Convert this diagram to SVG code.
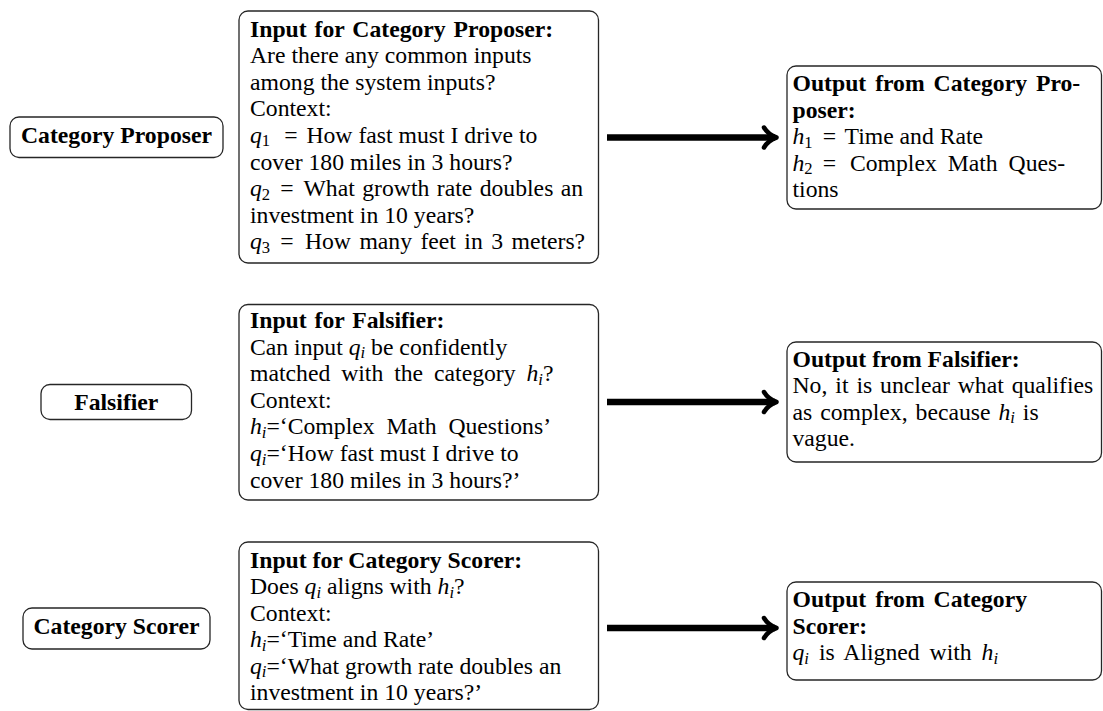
<svg xmlns="http://www.w3.org/2000/svg" width="1103" height="711" viewBox="0 0 1103 711">
<style>
.box{fill:#fff;stroke:#262626;stroke-width:1.3}
text{font-family:"Liberation Serif","Times New Roman",serif;font-size:23.7px;fill:#000}
.b{font-weight:bold}
.m{font-style:italic}
.sb{font-size:16.6px}
.si{font-size:16.6px;font-style:italic}
.arrow{stroke:#000;stroke-width:6.5;fill:none}
</style>
<defs>
<marker id="ah" markerUnits="userSpaceOnUse" orient="auto" refX="0" refY="0" markerWidth="30" markerHeight="30" viewBox="-15 -15 30 30" overflow="visible">
<path d="M-11,-10 C-8,-5 -3,-1.5 1.5,0 C-3,1.5 -8,5 -11,10" fill="none" stroke="#000" stroke-width="4.5" stroke-linecap="round" stroke-linejoin="round"/>
</marker>
</defs>

<g id="connectors">
<line class="arrow" x1="607" y1="137.5" x2="775" y2="137.5" marker-end="url(#ah)"/>
<line class="arrow" x1="607" y1="402" x2="775" y2="402" marker-end="url(#ah)"/>
<line class="arrow" x1="607" y1="628" x2="775" y2="628" marker-end="url(#ah)"/>
</g>

<g id="category-proposer">
<rect class="box" x="10" y="117" width="213" height="40.5" rx="9"/>
<text class="b" x="116.5" y="142.5" text-anchor="middle">Category Proposer</text>
</g>

<g id="input-category-proposer">
<rect class="box" x="239" y="11" width="359.5" height="252" rx="9"/>
<text class="b" x="250" y="36.5" word-spacing="2">Input for Category Proposer:</text>
<text x="250" y="63.1">Are there any common inputs</text>
<text x="250" y="89.7">among the system inputs?</text>
<text x="250" y="116.3">Context:</text>
<text x="250" y="142.9"><tspan class="m">q</tspan><tspan class="sb" dy="3.5">1</tspan><tspan dy="-3.5" dx="14">=</tspan><tspan dx="3"> How fast must I drive to</tspan></text>
<text x="250" y="169.5">cover 180 miles in 3 hours?</text>
<text x="250" y="196.1" word-spacing="1.5"><tspan class="m">q</tspan><tspan class="sb" dy="3.5">2</tspan><tspan dy="-3.5" dx="10">=</tspan><tspan dx="3"> What growth rate doubles an</tspan></text>
<text x="250" y="222.7">investment in 10 years?</text>
<text x="250" y="249.3" word-spacing="2.5"><tspan class="m">q</tspan><tspan class="sb" dy="3.5">3</tspan><tspan dy="-3.5" dx="10">=</tspan><tspan dx="3"> How many feet in 3 meters?</tspan></text>
</g>

<g id="output-category-proposer">
<rect class="box" x="787" y="66" width="314.5" height="143" rx="9"/>
<text class="b" x="792.5" y="91" word-spacing="3">Output from Category Pro-</text>
<text class="b" x="792.5" y="117.6">poser:</text>
<text x="792.5" y="144.2"><tspan class="m">h</tspan><tspan class="sb" dy="3.5">1</tspan><tspan dy="-3.5" dx="10">=</tspan><tspan dx="3"> Time and Rate</tspan></text>
<text x="792.5" y="170.8" word-spacing="5"><tspan class="m">h</tspan><tspan class="sb" dy="3.5">2</tspan><tspan dy="-3.5" dx="10">=</tspan><tspan dx="3"> Complex Math Ques-</tspan></text>
<text x="792.5" y="197.4">tions</text>
</g>

<g id="falsifier">
<rect class="box" x="41" y="384.5" width="150.5" height="35" rx="9"/>
<text class="b" x="116.3" y="409.5" text-anchor="middle">Falsifier</text>
</g>

<g id="input-falsifier">
<rect class="box" x="239" y="304.5" width="359.5" height="195.5" rx="9"/>
<text class="b" x="250" y="328" word-spacing="2">Input for Falsifier:</text>
<text x="250" y="354.6">Can input <tspan class="m">q</tspan><tspan class="si" dy="3.5">i</tspan><tspan dy="-3.5"> be confidently</tspan></text>
<text x="250" y="381.2" word-spacing="5">matched with the category <tspan class="m">h</tspan><tspan class="si" dy="3.5">i</tspan><tspan dy="-3.5">?</tspan></text>
<text x="250" y="407.8">Context:</text>
<text x="250" y="434.4" word-spacing="6"><tspan class="m">h</tspan><tspan class="si" dy="3.5">i</tspan><tspan dy="-3.5">=‘Complex Math Questions’</tspan></text>
<text x="250" y="461"><tspan class="m">q</tspan><tspan class="si" dy="3.5">i</tspan><tspan dy="-3.5">=‘How fast must I drive to</tspan></text>
<text x="250" y="487.6">cover 180 miles in 3 hours?’</text>
</g>

<g id="output-falsifier">
<rect class="box" x="787" y="342" width="314.5" height="120" rx="9"/>
<text class="b" x="792.5" y="366.5">Output from Falsifier:</text>
<text x="792.5" y="393" word-spacing="2">No, it is unclear what qualifies</text>
<text x="792.5" y="419.5" word-spacing="2">as complex, because <tspan class="m">h</tspan><tspan class="si" dy="3.5">i</tspan><tspan dy="-3.5"> is</tspan></text>
<text x="792.5" y="446">vague.</text>
</g>

<g id="category-scorer">
<rect class="box" x="23" y="608" width="187" height="41" rx="9"/>
<text class="b" x="116.5" y="634" text-anchor="middle">Category Scorer</text>
</g>

<g id="input-category-scorer">
<rect class="box" x="239" y="542" width="359.5" height="167.5" rx="9"/>
<text class="b" x="250" y="567.5">Input for Category Scorer:</text>
<text x="250" y="594">Does <tspan class="m">q</tspan><tspan class="si" dy="3.5">i</tspan><tspan dy="-3.5"> aligns with </tspan><tspan class="m">h</tspan><tspan class="si" dy="3.5">i</tspan><tspan dy="-3.5">?</tspan></text>
<text x="250" y="620.5">Context:</text>
<text x="250" y="647"><tspan class="m">h</tspan><tspan class="si" dy="3.5">i</tspan><tspan dy="-3.5">=‘Time and Rate’</tspan></text>
<text x="250" y="673.5"><tspan class="m">q</tspan><tspan class="si" dy="3.5">i</tspan><tspan dy="-3.5">=‘What growth rate doubles an</tspan></text>
<text x="250" y="700">investment in 10 years?’</text>
</g>

<g id="output-category-scorer">
<rect class="box" x="787" y="582" width="314.5" height="98" rx="9"/>
<text class="b" x="792.5" y="607" word-spacing="3">Output from Category</text>
<text class="b" x="792.5" y="633.5">Scorer:</text>
<text x="792.5" y="660" word-spacing="4"><tspan class="m">q</tspan><tspan class="si" dy="3.5">i</tspan><tspan dy="-3.5"> is Aligned with </tspan><tspan class="m">h</tspan><tspan class="si" dy="3.5">i</tspan></text>
</g>
</svg>
